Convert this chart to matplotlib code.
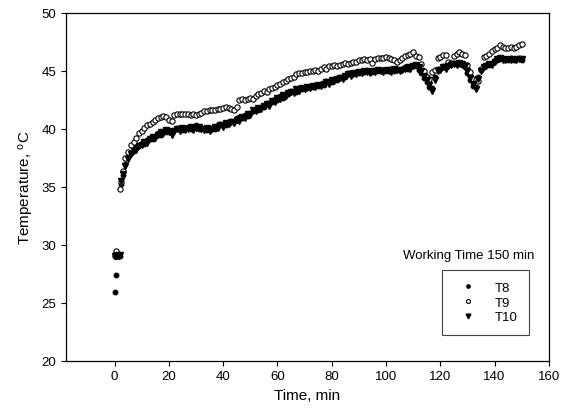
import numpy as np
import matplotlib
matplotlib.use("Agg")
import matplotlib.pyplot as plt

plt.rcParams.update({
    "font.family": ["Liberation Sans", "DejaVu Sans"],
    "mathtext.fontset": "custom",
    "mathtext.rm": "Liberation Sans",
    "mathtext.it": "Liberation Sans",
})

# time grid (min): dense start, then one reading per minute
time_min = np.concatenate([[0, 0.5, 1, 1.5, 2, 2.5, 3], np.arange(4, 151)])

t8 = [25.9, 27.4, 29.0, 29.1, 29.0, 35.2, 36.0,
      37.0, 37.6, 37.9, 38.3, 38.4, 38.6, 38.8, 38.7, 39.0, 39.2,
      39.1, 39.4, 39.6, 39.5, 39.8, 39.7, 39.9, 39.7, 39.9, 40.1,
      40.0, 39.9, 40.1, 40.2, 40.0, 40.1, 40.3, 40.0, 40.1, 40.0,
      39.9, 40.0, 40.1, 40.0, 40.3, 40.4, 40.4, 40.3, 40.6, 40.7,
      40.7, 40.9, 41.0, 40.9, 41.2, 41.1, 41.4, 41.5, 41.7, 41.6,
      41.9, 41.9, 42.2, 42.2, 42.3, 42.6, 42.5, 42.8, 42.7, 43.0,
      43.0, 43.3, 43.3, 43.2, 43.5, 43.4, 43.6, 43.5, 43.7, 43.6,
      43.8, 43.7, 43.9, 43.8, 44.1, 44.1, 44.0, 44.3, 44.2, 44.5,
      44.5, 44.5, 44.8, 44.8, 44.7, 44.9, 44.8, 45.0, 44.9, 45.1,
      45.0, 44.9, 45.1, 45.0, 45.1, 45.1, 45.0, 45.2, 45.1, 45.0,
      45.2, 45.1, 45.2, 45.3, 45.2, 45.4, 45.5, 45.4, 45.1, 44.8,
      44.4, 44.0, 43.6, 43.5, 44.5, 45.2, 45.2, 45.4, 45.3, 45.5,
      45.6, 45.7, 45.6, 45.6, 45.5, 45.3, 44.8, 44.2, 43.7, 43.6,
      44.5, 45.1, 45.4, 45.5, 45.5, 45.7, 45.9, 45.9, 46.0, 46.1,
      46.0, 45.9, 46.1, 45.9, 46.0, 46.1, 45.9]

t9 = [29.0, 29.5, 29.0, 29.1, 34.8, 35.4, 36.4,
      37.5, 38.0, 38.6, 38.9, 39.2, 39.6, 39.8, 40.1, 40.3, 40.4,
      40.6, 40.8, 40.9, 41.0, 41.1, 41.0, 40.8, 40.7, 41.2, 41.3,
      41.3, 41.3, 41.3, 41.3, 41.2, 41.3, 41.2, 41.3, 41.4, 41.5,
      41.5, 41.6, 41.6, 41.6, 41.7, 41.7, 41.8, 41.9, 41.8, 41.7,
      41.6, 41.9, 42.5, 42.6, 42.5, 42.6, 42.7, 42.6, 42.8, 43.0,
      43.1, 43.3, 43.2, 43.4, 43.5, 43.6, 43.8, 43.9, 44.0, 44.1,
      44.3, 44.4, 44.5, 44.7, 44.8, 44.8, 44.9, 44.9, 45.0, 45.0,
      45.1, 45.0, 45.2, 45.3, 45.2, 45.4, 45.4, 45.5, 45.4, 45.5,
      45.6, 45.7, 45.6, 45.7, 45.8, 45.8, 45.9, 45.9, 46.0, 45.9,
      46.0, 45.7, 46.0, 46.1, 46.1, 46.1, 46.2, 46.1, 46.0, 45.9,
      45.8, 45.9, 46.1, 46.3, 46.4, 46.5, 46.6, 46.3, 46.2, 45.6,
      45.0, 44.5, 44.3, 44.9, 45.1, 46.1, 46.2, 46.4, 46.4, 45.8,
      45.7, 46.3, 46.5, 46.6, 46.5, 46.4, 45.5, 44.9, 44.3, 44.2,
      44.1, 45.2, 46.2, 46.3, 46.5, 46.7, 46.9, 47.0, 47.2, 47.1,
      47.0, 47.0, 47.1, 47.0, 47.1, 47.2, 47.3]

t10 = [29.0, 29.0, 29.1, 29.0, 29.1, 35.5, 36.1,
       36.8, 37.4, 37.8, 38.1, 38.2, 38.5, 38.6, 38.9, 38.8, 39.1,
       39.3, 39.2, 39.5, 39.7, 39.6, 39.9, 39.7, 39.5, 39.8, 40.0,
       39.8, 40.1, 39.9, 40.0, 40.2, 39.9, 40.1, 40.2, 40.0, 39.9,
       40.1, 39.8, 40.0, 40.2, 40.1, 40.3, 40.2, 40.5, 40.4, 40.6,
       40.5, 40.8, 40.7, 41.0, 40.9, 41.3, 41.2, 41.6, 41.5, 41.8,
       41.7, 42.0, 42.1, 42.0, 42.4, 42.3, 42.7, 42.6, 42.9, 42.8,
       43.1, 43.2, 43.1, 43.4, 43.3, 43.5, 43.4, 43.6, 43.5, 43.7,
       43.6, 43.8, 43.7, 43.9, 44.0, 43.9, 44.2, 44.1, 44.3, 44.4,
       44.3, 44.6, 44.7, 44.6, 44.8, 44.7, 44.9, 44.8, 45.0, 44.9,
       44.8, 45.0, 44.9, 45.1, 45.0, 44.9, 45.1, 45.0, 44.9, 45.2,
       45.1, 45.0, 45.1, 45.2, 45.3, 45.2, 45.4, 45.5, 45.3, 45.0,
       44.6, 44.2, 43.8, 43.3, 44.2, 45.0, 45.1, 45.3, 45.2, 45.4,
       45.5, 45.6, 45.5, 45.7, 45.6, 45.4, 45.0, 44.4, 43.9, 43.4,
       44.3, 45.0, 45.3, 45.4, 45.6, 45.5, 45.8, 46.0, 46.1, 45.9,
       45.9, 46.0, 45.9, 46.0, 45.9, 46.0, 46.0]

x_ticks = [0, 20, 40, 60, 80, 100, 120, 140, 160]
y_ticks = [20, 25, 30, 35, 40, 45, 50]

fig, ax = plt.subplots(figsize=(5.67, 4.10), dpi=100)
fig.subplots_adjust(left=0.116, right=0.968, bottom=0.118, top=0.966)

ax.plot(time_min, t8, ls="none", marker="o", ms=3.2, color="black", label="T8")
ax.plot(time_min, t9, ls="none", marker="o", ms=3.8, mfc="white", mec="black",
        mew=0.8, label="T9")
ax.plot(time_min, t10, ls="none", marker="v", ms=4.6, color="black", label="T10")

ax.set_xlim(-18, 160)
ax.set_ylim(20, 50)
ax.set_xticks(x_ticks)
ax.set_yticks(y_ticks)
ax.tick_params(direction="out", length=3.5, width=0.8, labelsize=9.5,
               top=False, right=False)
for s in ax.spines.values():
    s.set_linewidth(0.9)

ax.set_xlabel("Time, min", fontsize=11)
ax.set_ylabel(r"Temperature, $^{\mathrm{o}}$C", fontsize=11)

ax.text(0.971, 0.304, "Working Time 150 min", transform=ax.transAxes,
        ha="right", va="center", fontsize=9.5)
leg = ax.legend(loc="upper right", bbox_to_anchor=(0.959, 0.262),
                fontsize=9.5, markerscale=0.75, fancybox=False,
                edgecolor="#444444", framealpha=1, borderpad=0.9,
                handletextpad=0.9, labelspacing=0.2, borderaxespad=0,
                handlelength=2.2)
leg.get_frame().set_linewidth(0.8)

fig.savefig("out.png", dpi=100)
